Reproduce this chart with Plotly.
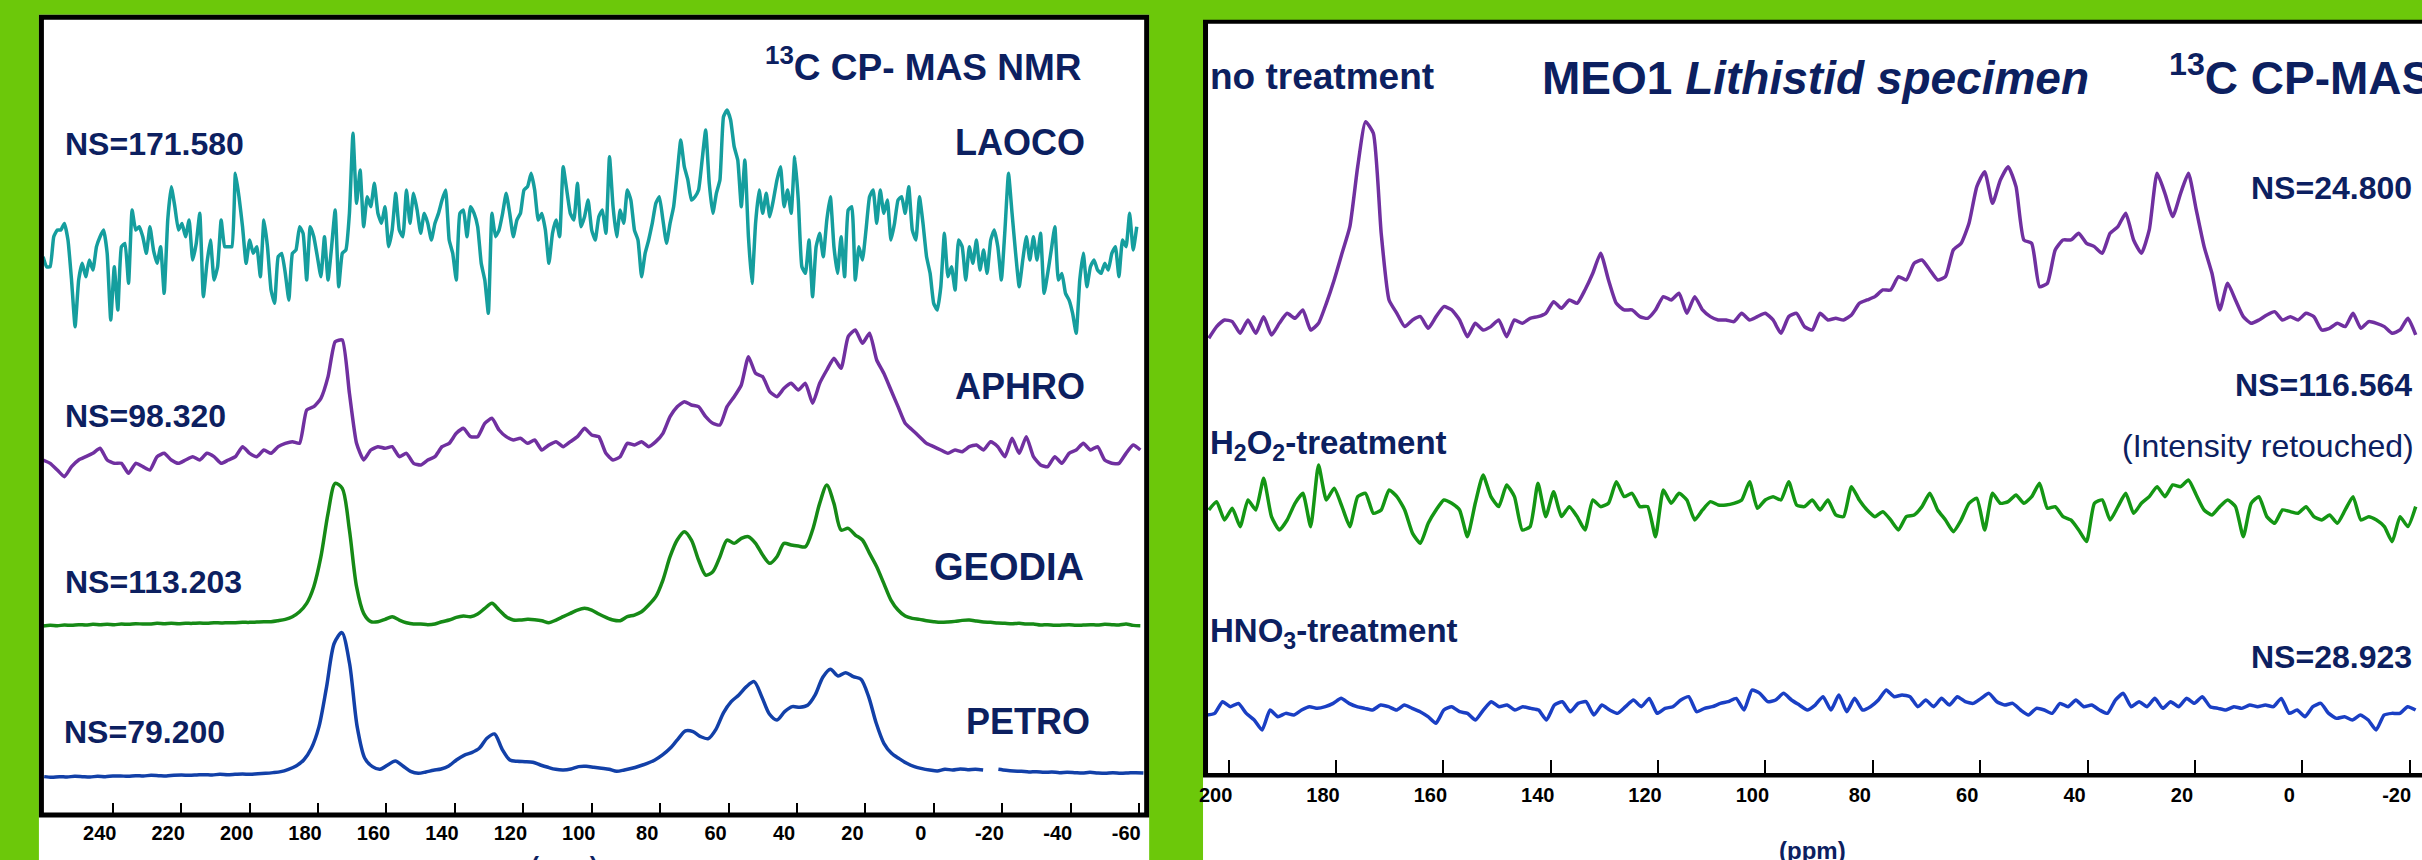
import numpy as np
import plotly.graph_objects as go

W, H = 2422, 860
FONT = "Liberation Sans, Arial, sans-serif"
NAVY = "#0c2060"
GREEN_BG = "#6CC80A"

# ---------------- data (intensities, arbitrary units) ----------------
laoco_ppm = (260.37, -59.29)
laoco = [270,240,240,330,350,350,370,320,200,60,200,250,210,260,230,300,330,350,280,
         80,240,110,300,310,190,410,350,360,330,280,360,290,250,300,160,380,480,420,350,
         370,330,380,260,310,400,150,250,320,200,240,380,300,300,300,520,450,360,250,320,
         280,300,210,380,300,170,130,270,280,220,140,280,290,360,340,200,360,330,270,210,
         330,200,300,410,180,280,290,400,640,430,530,360,450,420,490,400,370,420,300,350,
         460,350,330,470,370,460,410,340,400,370,320,370,400,440,470,320,280,200,400,410,
         330,420,400,360,250,200,100,400,330,350,400,460,400,330,380,400,470,480,520,470,
         380,400,350,250,340,380,330,540,470,400,380,490,360,390,440,350,320,390,410,340,
         570,420,330,410,370,470,440,350,320,210,280,320,370,430,450,380,310,370,420,520,
         620,540,500,440,450,470,560,650,490,400,460,500,690,710,680,600,560,420,560,330,
         190,370,470,400,460,390,440,500,540,420,470,400,570,440,240,220,320,150,300,340,
         270,380,450,300,220,330,210,410,420,200,300,260,350,450,470,370,470,400,440,320,
         370,440,450,400,480,350,320,450,370,270,220,130,110,180,340,210,240,170,320,300,
         200,300,250,320,230,290,220,320,350,300,200,350,520,400,280,180,260,330,260,330,
         260,340,160,220,290,360,200,220,160,140,100,40,200,280,180,240,260,230,220,250,
         230,280,300,210,320,300,400,290,360]

aphro_ppm = (260.37, -60.33)
aphro = [90,80,60,40,70,90,100,110,125,90,
         80,80,50,80,70,60,100,110,90,80,
         90,100,90,110,100,80,90,100,130,110,
         100,120,110,130,140,145,140,240,250,275,
         340,445,450,290,140,90,120,130,125,130,
         100,110,80,75,90,100,130,140,170,185,
         160,160,200,215,180,160,150,155,140,150,
         120,135,145,130,145,160,185,165,160,110,
         90,100,140,135,145,130,145,170,220,250,
         265,255,250,220,200,195,250,280,315,400,
         350,340,295,280,305,320,300,320,260,320,
         360,395,365,460,480,440,470,390,350,300,
         250,200,180,160,140,130,120,110,120,115,
         130,135,120,145,130,100,155,110,160,100,
         75,70,100,80,110,120,140,120,130,90,
         80,80,110,135,120]

geodia_ppm = (260.37, -60.33)
geodia = [2,4,3,5,4,6,5,7,6,7,
          6,8,7,9,8,8,10,9,10,9,
          10,10,11,10,12,11,12,12,13,13,
          14,15,15,18,22,30,45,70,120,210,
          340,430,415,290,120,40,15,15,22,30,
          20,12,8,8,6,8,15,20,28,32,
          30,38,55,70,50,30,20,20,22,21,
          18,12,20,30,40,50,55,50,38,28,
          20,18,30,35,45,65,90,140,210,260,
          285,260,200,155,165,210,260,250,265,270,
          250,215,190,210,250,245,242,240,290,370,
          425,370,290,295,275,260,220,180,130,80,
          50,32,25,22,18,15,13,14,16,19,
          20,17,14,13,11,10,9,10,8,8,
          5,6,4,5,6,4,5,6,5,7,
          6,5,8,4,3]

petro_ppm = (260.04, -61.24)
petro = [5,3,5,4,6,5,4,6,5,7,
         7,6,8,7,9,8,7,9,10,9,
         10,11,10,12,11,12,13,12,14,15,
         17,20,27,37,55,90,155,275,405,437,
         345,155,60,35,27,40,52,37,21,15,
         19,24,28,37,55,69,77,90,120,133,
         87,55,51,50,48,40,33,27,25,28,
         35,36,33,30,27,21,25,30,37,45,
         55,70,90,117,142,140,125,119,147,197,
         230,250,275,290,245,193,175,200,215,213,
         219,250,303,327,307,317,305,297,245,165,
         105,75,59,45,35,29,25,22,27,25,
         28,26,27,25,None,27,24,22,21,19,
         20,18,19,17,18,17,16,18,16,15,
         17,15,16,17,16]

none_ppm = (203.69, -21.13)
no_treatment = [45,80,100,95,60,100,60,110,55,90,
                120,105,130,70,90,150,220,300,380,560,
                695,660,360,160,120,80,100,110,75,110,
                140,130,100,50,90,70,80,100,50,100,
                90,105,110,120,155,135,160,150,190,240,
                300,220,150,130,130,110,105,130,170,160,
                180,120,170,130,110,100,100,95,120,100,
                110,120,100,60,110,120,80,70,120,100,
                105,100,115,150,160,170,190,190,230,220,
                270,280,250,220,230,310,330,390,500,545,
                450,520,560,500,340,330,200,210,310,340,
                340,360,330,320,300,360,380,420,340,300,
                370,540,480,410,480,540,430,320,240,130,
                210,160,110,90,100,115,125,100,110,100,
                120,110,70,75,90,80,120,75,95,90,
                80,60,70,105,55]

h2o2_ppm = (203.69, -21.13)
h2o2 = [130,155,100,135,80,160,130,225,110,70,
        100,150,180,80,265,160,195,140,80,170,
        180,120,130,190,170,130,60,30,90,130,
        160,150,130,50,150,235,170,140,205,170,
        70,80,210,110,185,110,140,110,70,160,
        140,150,215,170,180,140,140,50,190,150,
        180,160,100,130,155,145,145,150,160,215,
        135,160,170,160,215,145,140,160,130,160,
        115,110,200,160,130,110,125,100,70,110,
        115,140,180,130,100,65,100,150,165,70,
        180,150,155,175,150,170,210,135,140,110,
        100,70,35,150,160,100,140,180,120,150,
        170,200,170,205,200,220,175,130,115,140,
        160,140,50,150,170,110,90,130,125,120,
        140,110,100,115,90,130,170,100,110,100,
        80,35,110,80,140]

hno3_ppm = (204.06, -21.11)
hno3 = [65,70,105,90,100,70,50,20,80,60,
        70,65,80,90,85,90,100,115,100,90,
        85,80,95,90,80,95,85,75,60,40,
        80,90,75,70,50,80,105,90,95,80,
        90,85,80,50,95,105,75,100,105,65,
        95,80,70,90,110,90,115,70,85,90,
        110,120,75,85,90,100,105,115,80,140,
        130,105,110,130,110,95,80,95,120,80,
        125,75,115,80,90,110,140,120,125,120,
        90,110,90,115,95,120,105,100,115,130,
        105,95,100,80,65,85,80,70,100,90,
        110,90,95,80,70,110,130,90,105,90,
        115,85,105,90,115,100,120,90,85,80,
        90,85,95,90,95,90,115,70,80,60,
        90,100,70,55,60,50,65,50,20,65,
        70,70,90,80]

left_ticks = [240, 220, 200, 180, 160, 140, 120, 100, 80, 60, 40, 20, 0, -20, -40, -60]
right_ticks = [200, 180, 160, 140, 120, 100, 80, 60, 40, 20, 0, -20]

# ---------------- styling / placement ----------------
SCALE = 1.0 / 3.0
left_series = [
    (laoco, laoco_ppm, 468.3, "#159e9e", 0.4),
    (aphro, aphro_ppm, 325.0, "#7030a0", 0.5),
    (geodia, geodia_ppm, 188.3, "#168a16", 0.8),
    (petro, petro_ppm, 36.7, "#1240a8", 0.8),
]
right_series = [
    (no_treatment, none_ppm, 421.7, "#7030a0", 0.5),
    (h2o2, h2o2_ppm, 221.7, "#149614", 0.5),
    (hno3, hno3_ppm, 38.3, "#1a3fc4", 0.5),
]


def px(x):
    return x / W


def py(y):
    return 1 - y / H


fig = go.Figure()


def add_series(series, xa, ya):
    for vals, rng, off, col, smooth in series:
        ppm = np.linspace(rng[0], rng[1], len(vals))
        y = [None if v is None else off + v * SCALE for v in vals]
        fig.add_trace(go.Scatter(x=ppm, y=y, mode="lines", xaxis=xa, yaxis=ya,
                                 line=dict(color=col, width=3.5, shape="spline",
                                           smoothing=smooth),
                                 connectgaps=False, hoverinfo="skip", showlegend=False))


add_series(left_series, "x", "y")
add_series(right_series, "x2", "y2")

tickfont = dict(family=FONT, size=20, color="black", weight="bold")

fig.update_layout(
    width=W, height=H, autosize=False,
    margin=dict(l=0, r=0, t=0, b=0),
    paper_bgcolor=GREEN_BG, plot_bgcolor="rgba(0,0,0,0)",
    showlegend=False,
    xaxis=dict(domain=[px(36), px(1143)], range=[260.70, -62.04], showgrid=False,
               zeroline=False, showline=False, ticks="inside", ticklen=12, tickwidth=1.5,
               tickcolor="black", tickvals=left_ticks, ticktext=[str(t) for t in left_ticks],
               tickfont=tickfont, ticklabelshift=13, ticklabelstandoff=4, anchor="y"),
    yaxis=dict(domain=[py(815), py(17)], range=[0, 798], visible=False, anchor="x"),
    xaxis2=dict(domain=[px(1202), 1.0], range=[204.39, -22.30], showgrid=False,
                zeroline=False, showline=False, ticks="inside", ticklen=15, tickwidth=1.5,
                tickcolor="black", tickvals=right_ticks, ticktext=[str(t) for t in right_ticks],
                tickfont=tickfont, ticklabelshift=13, ticklabelstandoff=6, anchor="y2"),
    yaxis2=dict(domain=[py(775), py(21.7)], range=[0, 753.3], visible=False, anchor="x2"),
)

shapes = [
    # white panels
    dict(type="rect", xref="paper", yref="paper", x0=px(33), x1=px(1146), y0=0, y1=py(14.7),
         fillcolor="white", line=dict(width=0), layer="below"),
    dict(type="rect", xref="paper", yref="paper", x0=px(1200), x1=1.0, y0=0, y1=py(20),
         fillcolor="white", line=dict(width=0), layer="below"),
    # left frame
    dict(type="rect", xref="paper", yref="paper", x0=px(35.5), x1=px(1143.5), y0=py(815), y1=py(17.3),
         line=dict(color="black", width=5), fillcolor="rgba(0,0,0,0)", layer="above"),
    # right frame (top, left, bottom axis)
    dict(type="line", xref="paper", yref="paper", x0=px(1200), x1=1.0, y0=py(21.7), y1=py(21.7),
         line=dict(color="black", width=4), layer="above"),
    dict(type="line", xref="paper", yref="paper", x0=px(1202.5), x1=px(1202.5), y0=py(777), y1=py(20),
         line=dict(color="black", width=5), layer="above"),
    dict(type="line", xref="paper", yref="paper", x0=px(1200), x1=1.0, y0=py(775.3), y1=py(775.3),
         line=dict(color="black", width=4.5), layer="above"),
]
fig.update_layout(shapes=shapes)


def ann(text, x, y, xanchor, size, bold=True, yanchor="middle", color=NAVY):
    return dict(text=f"<b>{text}</b>" if bold else text, x=px(x), y=py(y),
                xref="paper", yref="paper", xanchor=xanchor, yanchor=yanchor,
                showarrow=False, font=dict(family=FONT, size=size, color=color))


annotations = [
    ann("<sup>13</sup>C CP- MAS NMR", 1081, 64, "right", 37),
    ann("NS=171.580", 57, 144, "left", 32),
    ann("LAOCO", 1084, 142, "right", 36),
    ann("NS=98.320", 57, 416, "left", 32),
    ann("APHRO", 1084, 387, "right", 36),
    ann("NS=113.203", 57, 582, "left", 32),
    ann("GEODIA", 1083, 567, "right", 38),
    ann("NS=79.200", 56, 732, "left", 32),
    ann("PETRO", 1089, 721, "right", 36),
    ann("(ppm)", 560, 850, "center", 24, yanchor="top"),
    ann("no treatment", 1205, 77, "left", 37),
    ann("MEO1 <i>Lithistid specimen</i>", 1538, 78, "left", 46),
    ann("<sup>13</sup>C CP-MAS NMR", 2166, 75, "left", 46),
    ann("NS=24.800", 2414, 188, "right", 32),
    ann("NS=116.564", 2414, 385, "right", 32),
    ann("H<sub>2</sub>O<sub>2</sub>-treatment", 1205, 445, "left", 33),
    ann("(Intensity retouched)", 2416, 446, "right", 32, bold=False),
    ann("HNO<sub>3</sub>-treatment", 1205, 633, "left", 33),
    ann("NS=28.923", 2414, 657, "right", 32),
    ann("(ppm)", 1811, 850, "center", 24),
]
fig.update_layout(annotations=annotations)

fig.write_html("out.html")
